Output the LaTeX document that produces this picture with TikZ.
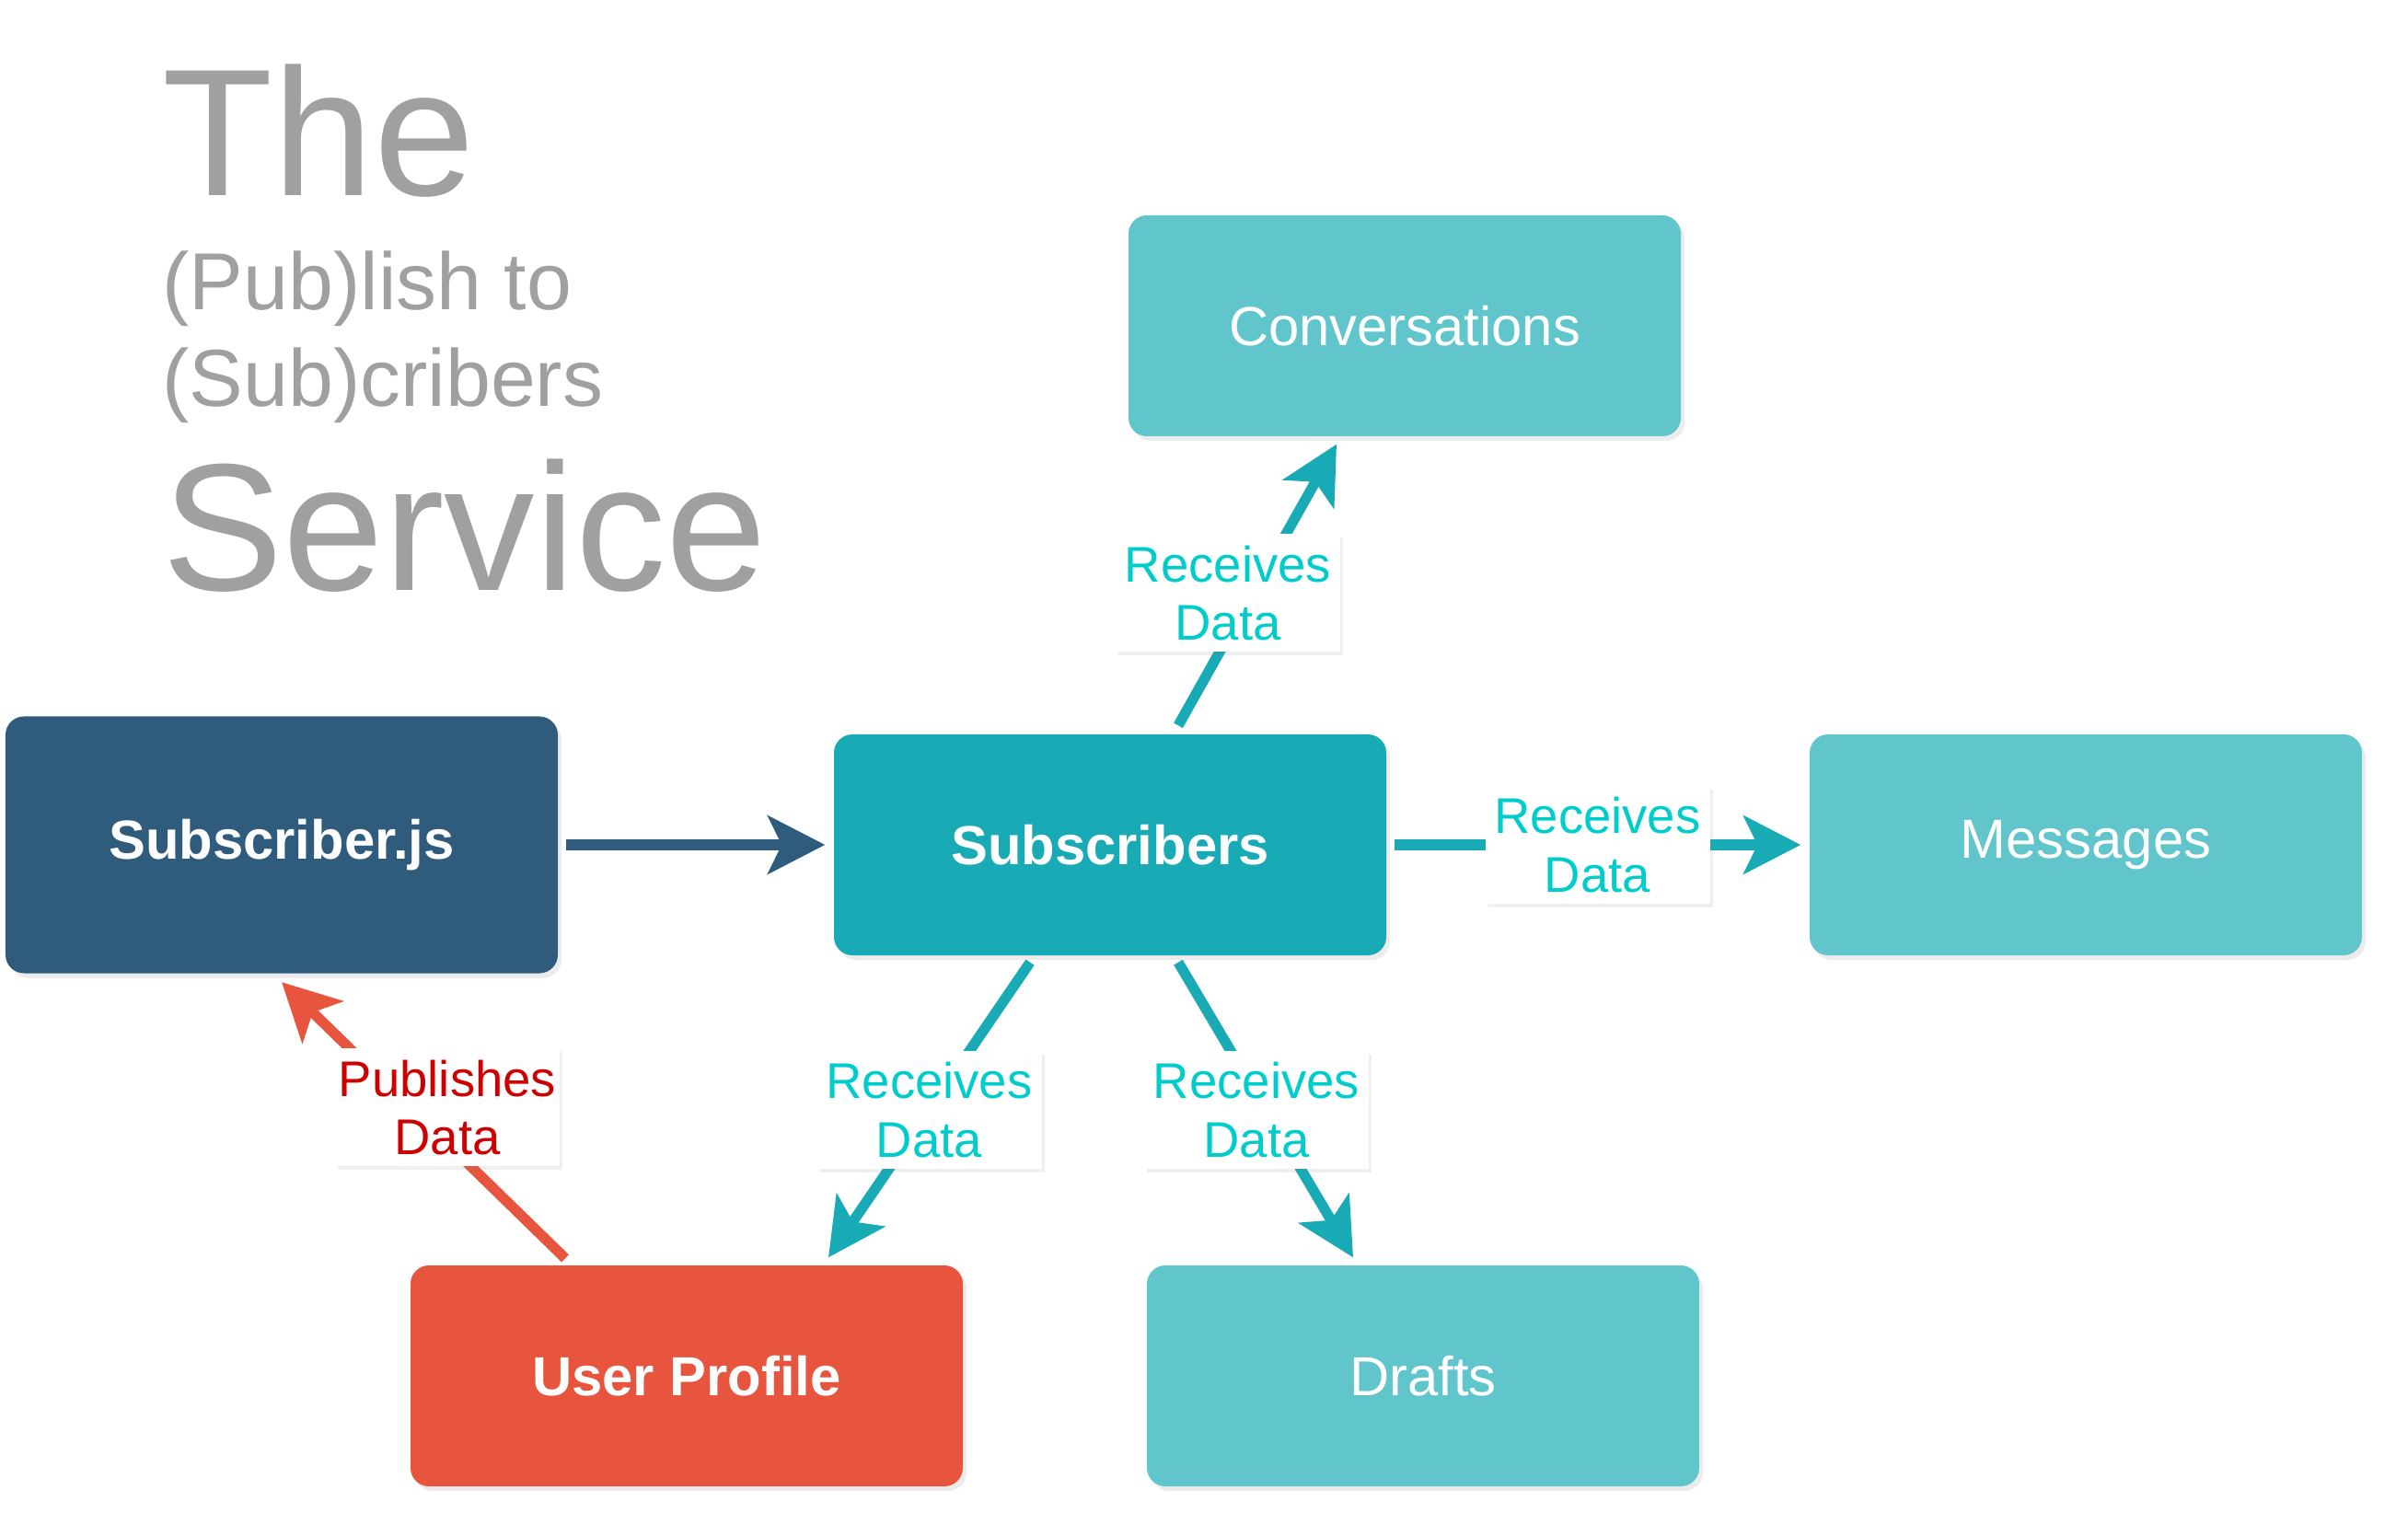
\documentclass[tikz,border=0pt]{standalone}
\usepackage{fontspec}
\setmainfont{Liberation Sans}
\usepackage{tikz}
\usetikzlibrary{arrows.meta, shadows}

\definecolor{darkblue}{HTML}{2F5C7C}
\definecolor{substeal}{HTML}{18AAB5}
\definecolor{lightteal}{HTML}{61C5CC}
\definecolor{profred}{HTML}{E8553F}
\definecolor{lblcyan}{HTML}{00CCCC}
\definecolor{lblred}{HTML}{CC0000}
\definecolor{titlegray}{HTML}{A0A0A0}

\begin{document}
\begin{tikzpicture}
\tikzstyle{box} = [rectangle, rounded corners=0.2cm, minimum width=6cm, minimum height=2.4cm, text=white, font=\fontsize{17}{20}\selectfont, drop shadow={opacity=0.15, shadow xshift=0.04cm, shadow yshift=-0.05cm}]
\tikzstyle{boldbox} = [box, font=\fontsize{17}{20}\selectfont\bfseries]
\tikzstyle{lbl} = [rectangle, fill=white, minimum width=2.44cm, minimum height=1.28cm, inner sep=0pt, align=center, text=lblcyan, font=\fontsize{15.5}{18}\selectfont, drop shadow={opacity=0.12, shadow xshift=0.03cm, shadow yshift=-0.04cm}]
\tikzstyle{heading} = [anchor=base west, inner sep=0pt, text=titlegray]
\tikzstyle{arrow} = [line width=3.2pt, -{Stealth[length=0.62cm, width=0.63cm, inset=0.15cm]}]

\path[use as bounding box, fill=white] (0,0) rectangle (26.16,16.68);

%Title in the top left corner
\node[heading, font=\fontsize{56}{60}\selectfont] (the) at (1.76,14.55) {The};
\node[heading, font=\fontsize{25}{30}\selectfont] (pubto) at (1.76,13.31) {(Pub)lish to};
\node[heading, font=\fontsize{25}{30}\selectfont] (subcr) at (1.76,12.26) {(Sub)cribers};
\node[heading, font=\fontsize{56}{60}\selectfont] (service) at (1.76,10.26) {Service};

%Boxes for each part of the service
\node[boldbox, fill=darkblue, minimum height=2.79cm] (subjs) at (3.06,7.50) {Subscriber.js};
\node[boldbox, fill=substeal] (subs) at (12.06,7.50) {Subscribers};
\node[box, fill=lightteal] (conv) at (15.26,13.14) {Conversations};
\node[box, fill=lightteal] (msgs) at (22.66,7.50) {Messages};
\node[boldbox, fill=profred] (prof) at (7.46,1.73) {User Profile};
\node[box, fill=lightteal] (drafts) at (15.46,1.73) {Drafts};

%Subscriber.js feeds the subscribers
\draw[arrow, darkblue] ([xshift=0.08cm]subjs.east) -- ([xshift=-0.09cm]subs.west);

%Subscribers pass the data on:
\draw[arrow, substeal] ([xshift=0.74cm,yshift=0.09cm]subs.north) -- ([xshift=-0.74cm,yshift=-0.08cm]conv.south) node[lbl, midway, xshift=-0.32cm, yshift=-0.09cm] (lblconv) {Receives\\Data};
\draw[arrow, substeal] ([xshift=0.08cm]subs.east) -- ([xshift=-0.09cm]msgs.west) node[lbl, midway] (lblmsgs) {Receives\\Data};
\draw[arrow, substeal] ([xshift=-0.87cm,yshift=-0.07cm]subs.south) -- ([xshift=1.54cm,yshift=0.08cm]prof.north) node[lbl, midway] (lblprof) {Receives\\Data};
\draw[arrow, substeal] ([xshift=0.74cm,yshift=-0.07cm]subs.south) -- ([xshift=-0.76cm,yshift=0.08cm]drafts.north) node[lbl, midway, xshift=-0.1cm] (lbldrafts) {Receives\\Data};

%User profile publishes back to Subscriber.js
\draw[arrow, profred] ([xshift=-1.32cm,yshift=0.07cm]prof.north) -- ([yshift=-0.09cm]subjs.south) node[lbl, midway, text=lblred, xshift=0.26cm, yshift=0.14cm] (lblpub) {Publishes\\Data};

\end{tikzpicture}
\end{document}
